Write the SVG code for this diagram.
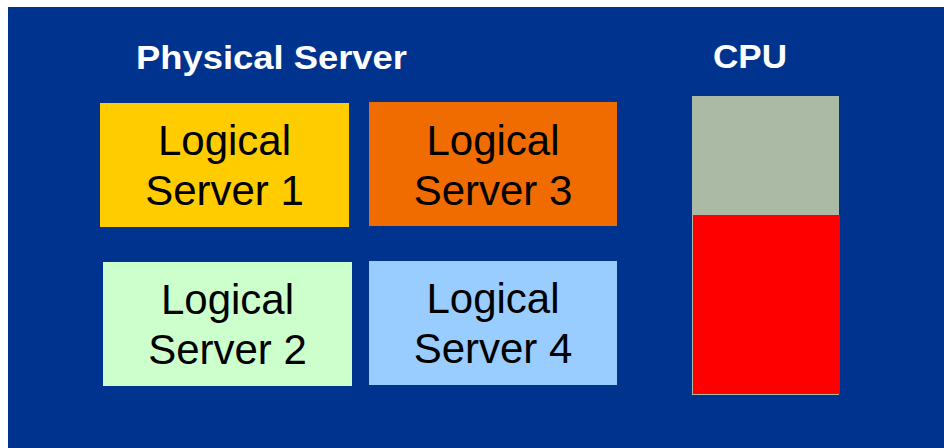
<svg xmlns="http://www.w3.org/2000/svg" width="944" height="448" viewBox="0 0 944 448">
  <style>
    .title { font-family: "Liberation Sans", Arial, sans-serif; font-weight: bold; font-size: 34px; fill: #ffffff; }
    .label { font-family: "Liberation Sans", Arial, sans-serif; font-size: 42px; fill: #000000; text-anchor: middle; }
  </style>
  <rect x="0" y="0" width="944" height="448" fill="#ffffff"/>
  <rect id="background" x="8" y="7" width="936" height="441" fill="#00338D"/>

  <text id="physical-title" class="title" x="136" y="69" textLength="271" lengthAdjust="spacingAndGlyphs">Physical Server</text>
  <text id="cpu-title" class="title" x="713" y="68" textLength="74" lengthAdjust="spacingAndGlyphs">CPU</text>

  <g id="server1">
    <rect x="100" y="103" width="249" height="124" fill="#FFCC00"/>
    <text class="label" x="224.5" y="155">Logical</text>
    <text class="label" x="224.5" y="205">Server 1</text>
  </g>
  <g id="server3">
    <rect x="369" y="102" width="248" height="124" fill="#F06B00"/>
    <text class="label" x="493" y="155">Logical</text>
    <text class="label" x="493" y="205">Server 3</text>
  </g>
  <g id="server2">
    <rect x="103" y="262" width="249" height="124" fill="#CCFFCC"/>
    <text class="label" x="227.5" y="314">Logical</text>
    <text class="label" x="227.5" y="364">Server 2</text>
  </g>
  <g id="server4">
    <rect x="369" y="261" width="248" height="124" fill="#99CCFF"/>
    <text class="label" x="493" y="313">Logical</text>
    <text class="label" x="493" y="363">Server 4</text>
  </g>

  <g id="cpu-bar">
    <rect x="692" y="96" width="147" height="299" fill="#AABAA4"/>
    <rect x="693" y="215" width="147" height="179" fill="#FF0000"/>
  </g>

  <g id="connectors"/>
</svg>
